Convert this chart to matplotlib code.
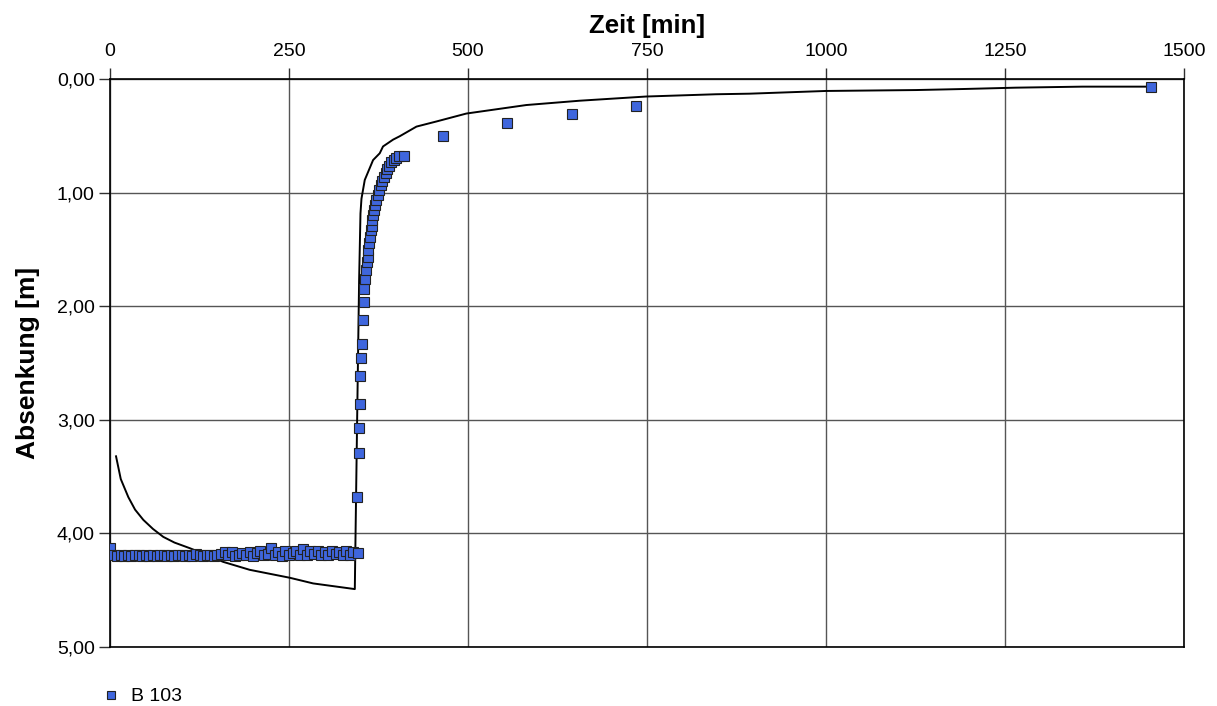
import matplotlib.pyplot as plt
from matplotlib.ticker import FuncFormatter

# measured drawdown B 103 (pumping phase, then recovery)
t_pump = [0, 5, 10, 15, 20, 25, 30, 35, 40, 45, 50, 55, 60, 65, 70, 75, 80, 85, 90,
          95, 100, 105, 110, 115, 120, 125, 130, 135, 140, 145, 150, 155, 160, 165,
          170, 175, 180, 185, 190, 195, 200, 205, 210, 215, 220, 225, 230, 235, 240,
          245, 250, 255, 260, 265, 270, 275, 280, 285, 290, 295, 300, 305, 310, 315,
          320, 325, 330, 335, 340, 346]
s_pump = [4.13, 4.19, 4.20, 4.19, 4.20, 4.19, 4.20, 4.19, 4.19, 4.20, 4.19, 4.20,
          4.19, 4.20, 4.19, 4.19, 4.20, 4.19, 4.20, 4.19, 4.19, 4.20, 4.19, 4.20,
          4.18, 4.19, 4.20, 4.19, 4.19, 4.20, 4.19, 4.18, 4.16, 4.19, 4.16, 4.20,
          4.19, 4.17, 4.19, 4.16, 4.20, 4.17, 4.15, 4.19, 4.18, 4.13, 4.19, 4.16,
          4.20, 4.15, 4.19, 4.17, 4.15, 4.19, 4.14, 4.19, 4.15, 4.18, 4.15, 4.19,
          4.16, 4.19, 4.15, 4.18, 4.16, 4.19, 4.15, 4.19, 4.16, 4.17]
t_rec = [345.6, 347.4, 347.8, 348.8, 349.8, 351.2, 352.0, 353.4, 354.8, 355.4,
         356.2, 357.2, 358.6, 360.0, 361.0, 361.8, 363.2, 364.6, 365.6, 366.5,
         367.9, 369.3, 370.7, 372.1, 373.9, 375.8, 378.1, 380.5, 382.7, 385.1,
         387.5, 389.7, 393.1, 396.3, 400.0, 403.7, 410.2, 465.0, 554.4, 644.6,
         734.9, 1453.5]
s_rec = [3.68, 3.29, 3.07, 2.86, 2.61, 2.45, 2.33, 2.12, 1.96, 1.85, 1.76, 1.68,
         1.61, 1.56, 1.50, 1.44, 1.39, 1.33, 1.29, 1.24, 1.19, 1.15, 1.11, 1.06,
         1.02, 0.97, 0.93, 0.89, 0.86, 0.82, 0.79, 0.76, 0.73, 0.71, 0.69, 0.67,
         0.67, 0.495, 0.38, 0.30, 0.23, 0.07]

# fitted model curve
t_fit = [8.4, 15, 25.6, 35, 46.5, 60, 74.4, 90, 111.6, 135, 158, 195, 251, 283.7,
         341.9, 342.5, 345, 347.9, 349.8, 351.2, 355.8, 367.4, 376.7, 381.3, 395.3,
         404.6, 428, 455.8, 497.7, 581.4, 655.8, 748.8, 846.5, 893, 1000, 1125.5,
         1190.6, 1265, 1358, 1446]
s_fit = [3.32, 3.52, 3.68, 3.79, 3.88, 3.96, 4.03, 4.08, 4.13, 4.19, 4.25, 4.32,
         4.39, 4.44, 4.49, 4.20, 3.06, 1.77, 1.18, 1.05, 0.885, 0.71, 0.65, 0.59,
         0.53, 0.50, 0.415, 0.37, 0.30, 0.225, 0.187, 0.15, 0.13, 0.125, 0.101,
         0.093, 0.084, 0.072, 0.063, 0.063]

x_ticks = [0, 250, 500, 750, 1000, 1250, 1500]
y_ticks = [0, 1, 2, 3, 4, 5]

plt.rcParams['font.family'] = ['Liberation Sans', 'DejaVu Sans']

fig = plt.figure(figsize=(12.17, 7.06), dpi=100)
ax = fig.add_axes([0.0904, 0.0836, 0.8825, 0.8038])

ax.set_xlim(0, 1500)
ax.set_ylim(5, 0)
ax.set_xticks(x_ticks)
ax.set_yticks(y_ticks)
ax.yaxis.set_major_formatter(FuncFormatter(lambda v, p: f"{v:.2f}".replace('.', ',')))
ax.xaxis.tick_top()
ax.xaxis.set_label_position('top')
ax.tick_params(axis='both', labelsize=14, length=8, width=1, color='#303030',
               direction='out')
ax.tick_params(axis='x', pad=6)
ax.tick_params(axis='y', pad=3)

ax.grid(True, color='#555555', linewidth=1)
ax.set_axisbelow(True)
for sp in ax.spines.values():
    sp.set_color('black')
    sp.set_linewidth(1.2)

ax.plot(t_fit, s_fit, color='black', linewidth=1.4, zorder=3)
t_all = t_pump + t_rec
s_all = s_pump + s_rec
ax.plot(t_all, s_all, linestyle='none', marker='s', markersize=7.5,
        markerfacecolor='#3f66dd', markeredgecolor='#222222', markeredgewidth=0.8,
        zorder=4, label='B 103')

ax.set_xlabel('Zeit [min]', fontsize=18.5, fontweight='bold', labelpad=7)
ax.set_ylabel('Absenkung [m]', fontsize=19, fontweight='bold', labelpad=12)

fig.legend(loc='lower left', bbox_to_anchor=(0.071, -0.024), frameon=False,
           handlelength=0.7, handletextpad=0.7, markerscale=0.8,
           prop={'family': ['Liberation Sans Narrow', 'Liberation Sans'], 'size': 14})

fig.savefig('out.png', dpi=100)
